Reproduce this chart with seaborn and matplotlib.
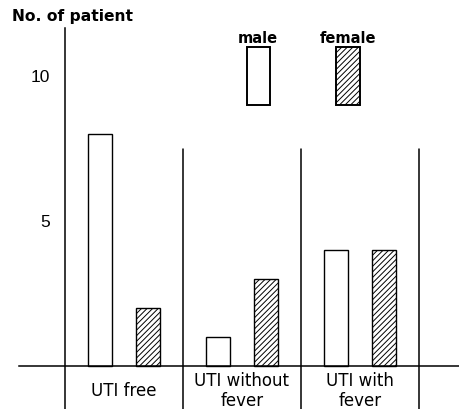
import matplotlib
matplotlib.use("Agg")
import matplotlib.pyplot as plt
import pandas as pd
import seaborn as sns

# Dados -----------------------------------------------------------------
categorias = ["UTI free", "UTI without\nfever", "UTI with\nfever"]
masculino = [8, 1, 4]
feminino = [2, 3, 4]
yticks = [5, 10]

df = pd.DataFrame({
    "grupo": categorias * 2,
    "n": masculino + feminino,
    "sexo": ["male"] * 3 + ["female"] * 3,
})

sns.set_style("white")
plt.rcParams["font.family"] = ["DejaVu Sans"]
plt.rcParams["text.color"] = "black"
plt.rcParams["hatch.linewidth"] = 0.7

fig = plt.figure(figsize=(4.6, 4.09), dpi=100)
ax = fig.add_axes([0, 0, 1, 1])

sns.barplot(data=df, x="grupo", y="n", hue="sexo", order=categorias,
            hue_order=["male", "female"],
            palette={"male": "white", "female": "white"},
            edgecolor="black", linewidth=1.0, width=0.813, gap=0.5,
            legend=False, ax=ax)

# hachura nas barras femininas
for barra in ax.containers[1]:
    barra.set_hatch("//////")

# limites para o layout da figura
ax.set_xlim(-1.05, 2.85)
ax.set_ylim(-1.48, 12.62)

# eixos
for lado in ["top", "right"]:
    ax.spines[lado].set_visible(False)
ax.spines["left"].set_position(("data", -0.5))
ax.spines["left"].set_bounds(-1.48, 11.66)
ax.spines["bottom"].set_position(("data", 0))
ax.spines["bottom"].set_bounds(-0.89, 2.85)
for lado in ["left", "bottom"]:
    ax.spines[lado].set_color("black")
    ax.spines[lado].set_linewidth(1.1)

ax.set_xticks([])
ax.set_yticks(yticks)
ax.set_yticklabels([str(v) for v in yticks], fontsize=12.5,
                   family="Liberation Sans")
ax.tick_params(axis="y", direction="out", length=5, width=1.1, pad=6,
               colors="black", labelcolor="black")
ax.set_xlabel("")
ax.set_ylabel("")

# divisórias entre grupos
for i in range(len(categorias)):
    ax.plot([i + 0.5, i + 0.5], [-1.48, 7.5], color="black", lw=1.1)

# rótulos das categorias
for i, nome in enumerate(categorias):
    ax.text(i, -0.85, nome, ha="center", va="center", fontsize=12,
            linespacing=1.15, color="black")

# título do eixo y
ax.text(-0.95, 12.05, "No. of patient", ha="left", va="center",
        fontsize=11.2, fontweight="bold", color="black")

# legenda manual
for pos, (nome, hatch) in zip([1.14, 1.9], [("male", ""), ("female", "//////")]):
    ax.bar(pos, 2, bottom=9, width=0.2, color="white", edgecolor="black",
           linewidth=1.4, hatch=hatch)
    ax.text(pos, 11.3, nome, ha="center", va="center", fontsize=10.5,
            fontweight="bold", color="black")

fig.savefig("out.png", dpi=100)
